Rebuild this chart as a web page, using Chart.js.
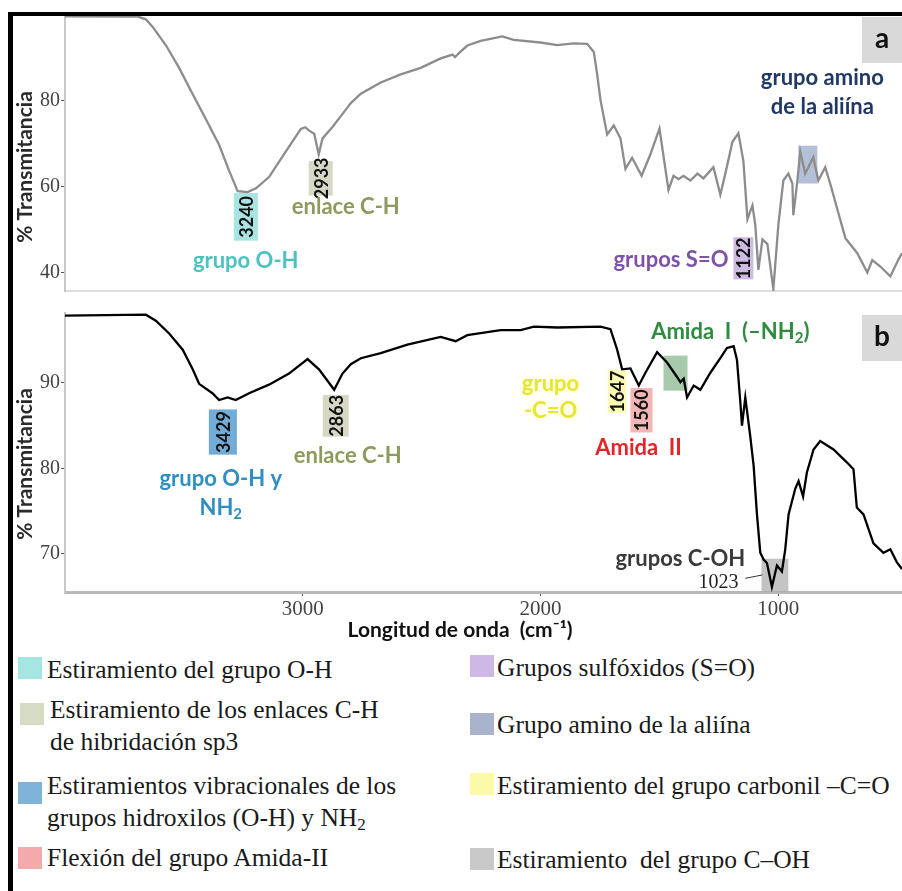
<!DOCTYPE html>
<html>
<head>
<meta charset="utf-8">
<script src="https://cdn.jsdelivr.net/npm/chart.js@4.4.0/dist/chart.umd.min.js"></script>
<style>
  html, body { margin: 0; padding: 0; background: #fff; }
  #fig { position: relative; width: 902px; height: 891px; overflow: hidden; background: #fff; }
  #frame { position: absolute; left: 8px; top: 12px; width: 920px; height: 900px;
           border-left: 5px solid #000; border-top: 4px solid #000; z-index: 5; pointer-events: none; }
  canvas { position: absolute; }
  #chartA { left: 13px; top: 0; }
  #chartB { left: 13px; top: 300px; }
  .leg { position: absolute; font-family: "Liberation Serif", "Times New Roman", serif;
         font-size: 25.5px; line-height: 32px; color: #1a1a1a; white-space: pre; }
  .leg sub { font-size: 17px; vertical-align: -4px; line-height: 0; }
  .sw { position: absolute; width: 24px; height: 22px; }
</style>
</head>
<body>
<div id="fig">
  <canvas id="chartA" width="889" height="304"></canvas>
  <canvas id="chartB" width="889" height="345"></canvas>
  <div id="frame"></div>
</div>
<script>
// shared x axis (cm-1) and y ticks
const xTicks = [3000, 2000, 1000];
const yTicksA = [40, 60, 80];
const yTicksB = [70, 80, 90];

// spectrum a (grey)
const wavenumbersA = [4000, 3693, 3660, 3632, 3575, 3520, 3464, 3408, 3352, 3310, 3274, 3232, 3197, 3142, 3071,
  3008, 2990, 2973, 2952, 2933, 2917, 2876, 2819, 2798, 2756, 2672, 2588, 2504, 2420, 2370, 2360, 2340, 2308,
  2252, 2161, 2113, 2000, 1930, 1860, 1804, 1776, 1762, 1748, 1720, 1692, 1664, 1643, 1615, 1575, 1538, 1500,
  1462, 1441, 1420, 1399, 1370, 1340, 1315, 1273, 1244, 1223, 1193, 1168, 1147, 1130, 1109, 1097, 1084, 1067,
  1046, 1021, 1000, 979, 958, 941, 937, 920, 908, 887, 853, 832, 803, 782, 752, 718, 668, 626, 605, 571, 529, 496, 480];
const transmitA = [99.7, 99.6, 99.0, 97.3, 92.9, 87.7, 81.7, 75.8, 69.8, 63.8, 59.0, 58.8, 59.7, 62.3, 68.3,
  73.5, 73.9, 73.1, 72.4, 67.6, 71.3, 73.9, 78.0, 79.5, 81.7, 84.3, 86.2, 87.7, 89.9, 90.8, 90.2, 91.3, 92.9,
  94.0, 95.0, 94.2, 93.6, 93.0, 93.4, 93.3, 91.4, 86.2, 80.2, 72.2, 74.3, 71.3, 64.2, 66.8, 62.6, 67.6, 73.6,
  59.3, 62.6, 61.8, 62.6, 61.5, 63.1, 62.0, 64.6, 58.2, 63.1, 70.5, 72.5, 66.0, 52.5, 55.7, 51.2, 40.7, 47.8,
  46.7, 36.2, 51.2, 61.5, 63.1, 60.8, 53.4, 61.5, 68.2, 63.1, 66.9, 61.5, 64.6, 60.8, 54.8, 48.1, 44.6, 40.1,
  43.0, 41.5, 39.2, 43.0, 44.6];

// spectrum b (black)
const wavenumbersB = [4000, 3660, 3618, 3562, 3505, 3463, 3436, 3380, 3352, 3316, 3282, 3226, 3142, 3058, 2980,
  2932, 2868, 2833, 2798, 2756, 2672, 2560, 2420, 2357, 2308, 2168, 2084, 2028, 1930, 1748, 1706, 1678, 1657,
  1622, 1587, 1559, 1510, 1468, 1426, 1412, 1398, 1384, 1356, 1328, 1286, 1244, 1216, 1188, 1174, 1160, 1153,
  1139, 1118, 1104, 1090, 1076, 1062, 1048, 1027, 1006, 985, 971, 957, 929, 915, 896, 880, 852, 824, 768, 712,
  684, 670, 642, 600, 558, 529, 502, 480];
const transmitB = [97.9, 98.0, 97.3, 95.8, 93.9, 91.6, 89.9, 88.8, 88.0, 88.3, 88.0, 88.8, 89.8, 91.1, 92.8,
  91.6, 89.2, 91.1, 92.2, 92.9, 93.5, 94.5, 95.4, 94.9, 95.6, 96.2, 96.2, 96.6, 96.5, 96.6, 96.3, 93.9, 91.6,
  91.7, 89.7, 91.2, 93.6, 92.4, 90.7, 90.1, 90.5, 88.3, 89.7, 89.2, 91.2, 92.9, 94.1, 94.3, 92.7, 87.8, 85.0,
  88.3, 83.7, 80.3, 74.6, 70.1, 69.3, 68.9, 66.1, 68.6, 67.9, 70.5, 74.6, 77.6, 78.5, 76.7, 79.5, 82.2, 83.2, 82.2, 80.7,
  79.9, 75.4, 74.6, 71.2, 70.1, 70.5, 69.0, 68.2];

const legendLabels = [
  ['Estiramiento del grupo O-H'],
  ['Estiramiento de los enlaces C-H', 'de hibridación sp3'],
  ['Estiramientos vibracionales de los', 'grupos hidroxilos (O-H) y NH₂'],
  ['Flexión del grupo Amida-II'],
  ['Grupos sulfóxidos (S=O)'],
  ['Grupo amino de la aliína'],
  ['Estiramiento del grupo carbonil –C=O'],
  ['Estiramiento  del grupo C–OH']
];

// band highlights and labels, placed in data units (cm-1, %T)
const bandsA = [
  { x1: 3290, x2: 3189, y1: 47.5, y2: 58.6, color: '#a8e4e2', num: '3240' },
  { x1: 2975, x2: 2874, y1: 58.0, y2: 66.0, color: '#d6d8c4', num: '2933' },
  { x1: 1189, x2: 1105, y1: 38.5, y2: 48.3, color: '#cdbbe2', num: '1122' },
  { x1: 916, x2: 836, y1: 60.8, y2: 69.6, color: 'rgba(105,130,175,0.5)' }
];
const notesA = [
  { x: 3240, y: 42.8, text: 'grupo O-H', color: '#4cc2c0' },
  { x: 2819, y: 55.4, text: 'enlace C-H', color: '#8c9a5c' },
  { x: 1210, y: 43.1, text: 'grupos S=O', color: '#7d52a8', align: 'right' },
  { x: 815, y: 85.4, text: 'grupo amino', color: '#203864' },
  { x: 815, y: 78.7, text: 'de la aliína', color: '#203864' }
];
const bandsB = [
  { x1: 3395, x2: 3277, y1: 81.6, y2: 86.9, color: '#72acd6', num: '3429' },
  { x1: 2916, x2: 2807, y1: 83.7, y2: 88.6, color: '#d6d8c4', num: '2863' },
  { x1: 1718, x2: 1639, y1: 86.5, y2: 91.5, color: '#fbfbb4', num: '1647' },
  { x1: 1622, x2: 1529, y1: 84.2, y2: 89.4, color: '#f2b6b6', num: '1560' },
  { x1: 1483, x2: 1382, y1: 89.1, y2: 93.2, color: 'rgba(80,150,90,0.5)' },
  { x1: 1071, x2: 958, y1: 65.5, y2: 69.4, color: 'rgba(170,170,170,0.7)' }
];
const notesB = [
  { x: 3345, y: 78.8, text: 'grupo O-H y', color: '#2f8fc2' },
  { x: 3345, y: 75.4, text: 'NH₂', color: '#2f8fc2' },
  { x: 2811, y: 81.4, text: 'enlace C-H', color: '#8c9a5c' },
  { x: 1958, y: 89.9, text: 'grupo', color: '#e6e632', glow: true },
  { x: 1958, y: 86.7, text: '-C=O', color: '#e6e632', glow: true },
  { x: 1588, y: 82.4, text: 'Amida  II', color: '#e3242b' },
  { x: 1202, y: 96.0, text: 'Amida  I  (–NH₂)', color: '#2e8b3f' },
  { x: 1412, y: 69.4, text: 'grupos C-OH', color: '#3a3a3a' }
];

function richText(ctx, text, x, y, size, color, align) {
  const parts = text.split('₂');
  const main = 'bold ' + size + 'px Lato';
  const sub = 'bold ' + Math.round(size * 0.68) + 'px Lato';
  let w = 0;
  parts.forEach((p, i) => {
    ctx.font = main; w += ctx.measureText(p).width;
    if (i < parts.length - 1) { ctx.font = sub; w += ctx.measureText('2').width; }
  });
  let cx = align === 'right' ? x - w : align === 'left' ? x : x - w / 2;
  ctx.fillStyle = color;
  ctx.textAlign = 'left';
  ctx.textBaseline = 'middle';
  parts.forEach((p, i) => {
    ctx.font = main; ctx.fillText(p, cx, y); cx += ctx.measureText(p).width;
    if (i < parts.length - 1) {
      ctx.font = sub; ctx.fillText('2', cx, y + size * 0.28); cx += ctx.measureText('2').width;
    }
  });
}

function makeNotes(bands, notes, panel, titleY, drawX) {
  return {
    id: 'notes' + panel,
    beforeDatasetsDraw(chart) {
      const { ctx, scales: { x, y } } = chart;
      ctx.save();
      bands.forEach(b => {
        const l = x.getPixelForValue(b.x1), r = x.getPixelForValue(b.x2);
        const t = y.getPixelForValue(b.y2), bt = y.getPixelForValue(b.y1);
        ctx.fillStyle = b.color;
        ctx.fillRect(Math.min(l, r), t, Math.abs(r - l), bt - t);
      });
      ctx.restore();
    },
    afterDatasetsDraw(chart) {
      const { ctx, chartArea: a, scales: { x, y } } = chart;
      ctx.save();
      // peak numbers, rotated inside the boxes
      bands.forEach(b => {
        if (!b.num) return;
        const cx = (x.getPixelForValue(b.x1) + x.getPixelForValue(b.x2)) / 2;
        const cy = (y.getPixelForValue(b.y1) + y.getPixelForValue(b.y2)) / 2;
        ctx.save();
        ctx.translate(cx + 1, cy);
        ctx.rotate(-Math.PI / 2);
        ctx.font = 'bold 18px Lato';
        ctx.fillStyle = '#111';
        ctx.textAlign = 'center';
        ctx.textBaseline = 'middle';
        ctx.fillText(b.num, 0, 0);
        ctx.restore();
      });
      notes.forEach(n => {
        ctx.save();
        if (n.glow) { ctx.shadowColor = 'rgba(255,255,170,1)'; ctx.shadowBlur = 6; }
        richText(ctx, n.text, x.getPixelForValue(n.x), y.getPixelForValue(n.y), 22, n.color, n.align);
        ctx.restore();
      });
      // panel letter
      ctx.fillStyle = '#d9d9d9';
      ctx.fillRect(a.right - 40, a.top + 2, 40, 46);
      ctx.fillStyle = '#111';
      ctx.font = 'bold 28px Lato';
      ctx.textAlign = 'center';
      ctx.textBaseline = 'middle';
      ctx.fillText(panel, a.right - 20, a.top + 24);
      // y title
      ctx.save();
      ctx.translate(12, titleY);
      ctx.rotate(-Math.PI / 2);
      ctx.font = 'bold 21px Lato';
      ctx.fillStyle = '#2a2a2a';
      ctx.fillText('% Transmitancia', 0, 0);
      ctx.restore();
      if (drawX) {
        // 1023 callout
        ctx.font = '20px "Liberation Serif"';
        ctx.fillStyle = '#222';
        ctx.fillText('1023', x.getPixelForValue(1252), y.getPixelForValue(66.6));
        ctx.strokeStyle = '#333';
        ctx.lineWidth = 1;
        ctx.beginPath();
        ctx.moveTo(x.getPixelForValue(1139), y.getPixelForValue(67.1));
        ctx.lineTo(x.getPixelForValue(1067), y.getPixelForValue(67.5));
        ctx.stroke();
        // x title
        ctx.font = 'bold 21px Lato';
        ctx.fillStyle = '#111';
        ctx.fillText('Longitud de onda  (cm⁻¹)', 447, 330);
      }
      ctx.restore();
    }
  };
}

function toPoints(xs, ys) {
  return xs.map((v, i) => ({ x: v, y: ys[i] }));
}

function panel(id, xs, ys, color, yTicks, yMin, yMax, padTop, xHeight, showX, plugin) {
  return new Chart(document.getElementById(id), {
    type: 'line',
    data: { datasets: [{ data: toPoints(xs, ys), borderColor: color, borderWidth: 2.3,
                         pointRadius: 0, tension: 0, fill: false }] },
    options: {
      responsive: false,
      animation: false,
      layout: { padding: { top: padTop, left: 0, right: 0, bottom: 0 } },
      plugins: { legend: { display: false }, tooltip: { enabled: false } },
      scales: {
        x: {
          type: 'linear', reverse: true, min: 480, max: 4000,
          afterBuildTicks: s => { s.ticks = xTicks.map(v => ({ value: v })); },
          afterFit: s => { s.height = xHeight; },
          grid: { display: showX, drawOnChartArea: false, drawTicks: true, tickLength: 4, color: '#555' },
          border: { display: true, color: showX ? '#b8b8b8' : '#dedede', width: showX ? 3 : 2 },
          ticks: { display: showX, padding: 1, color: '#444', maxRotation: 0,
                   callback: v => String(v),
                   font: { family: 'Liberation Serif', size: 21 } }
        },
        y: {
          min: yMin, max: yMax,
          afterBuildTicks: s => { s.ticks = yTicks.map(v => ({ value: v })); },
          afterFit: s => { s.width = 52; },
          grid: { display: true, drawOnChartArea: false, drawTicks: true, tickLength: 4, color: '#555' },
          border: { display: true, color: '#c8c8c8', width: 2 },
          ticks: { padding: 1, color: '#444', callback: v => String(v),
                   font: { family: 'Liberation Serif', size: 20 } }
        }
      }
    },
    plugins: [plugin]
  });
}

panel('chartA', wavenumbersA, transmitA, '#8c8c8c', yTicksA, 35.8, 100, 15, 2, false,
      makeNotes(bandsA, notesA, 'a', 167, false));
panel('chartB', wavenumbersB, transmitB, '#000', yTicksB, 65.5, 98.2, 3, 53, true,
      makeNotes(bandsB, notesB, 'b', 164, true));

// legend
const legendLayout = [
  { sx: 18, sy: 657, tx: 47, ty: 670, color: '#a6e6e2' },
  { sx: 20, sy: 703, tx: 50, ty: 710, color: '#d6dcc4' },
  { sx: 18, sy: 782, tx: 47, ty: 786, color: '#7fb3da' },
  { sx: 18, sy: 847, tx: 47, ty: 858, color: '#f4aaaa' },
  { sx: 470, sy: 655, tx: 497, ty: 668, color: '#cdb8e6' },
  { sx: 470, sy: 713, tx: 497, ty: 725, color: '#a9b4cc' },
  { sx: 470, sy: 773, tx: 497, ty: 786, color: '#fafaa8' },
  { sx: 470, sy: 848, tx: 497, ty: 860, color: '#c8c8c8' }
];
const fig = document.getElementById('fig');
legendLabels.forEach((lines, i) => {
  const L = legendLayout[i];
  const sw = document.createElement('div');
  sw.className = 'sw';
  sw.style.left = L.sx + 'px';
  sw.style.top = L.sy + 'px';
  sw.style.background = L.color;
  fig.appendChild(sw);
  const t = document.createElement('div');
  t.className = 'leg';
  t.style.left = L.tx + 'px';
  t.style.top = (L.ty - 16) + 'px';
  t.innerHTML = lines.map(s => s.replace('₂', '<sub>2</sub>')).join('\n');
  fig.appendChild(t);
});
</script>
</body>
</html>
